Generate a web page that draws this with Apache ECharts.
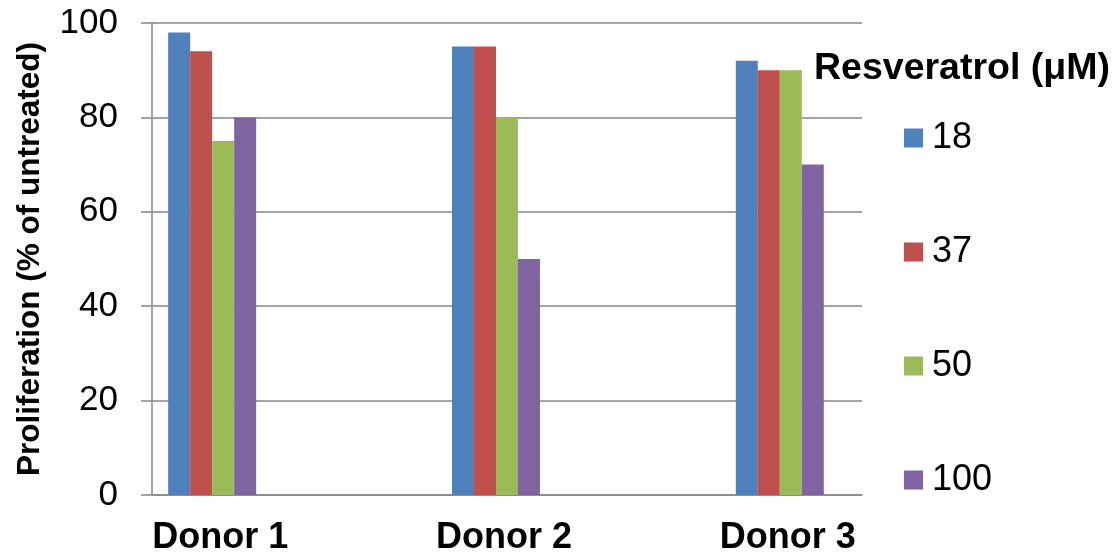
<!DOCTYPE html>
<html><head><meta charset="utf-8">
<script src="https://cdn.jsdelivr.net/npm/echarts@6/dist/echarts.min.js"></script>
<style>html,body{margin:0;padding:0;background:#fff}#c{width:1115px;height:560px}</style>
</head><body><div id="c"></div>
<script>
const categories = ['Donor 1', 'Donor 2', 'Donor 3'];
const seriesNames = ['18', '37', '50', '100'];
const s18 = [98, 95, 92];
const s37 = [94, 95, 90];
const s50 = [75, 80, 90];
const s100 = [80, 50, 70];
const yTicks = [0, 20, 40, 60, 80, 100];
const colors = ['#4F81BD', '#C0504D', '#9BBB59', '#8064A2'];
const values = [s18, s37, s50, s100];
const font = '"Liberation Sans", Arial, sans-serif';

const chart = echarts.init(document.getElementById('c'), null, {renderer: 'canvas'});
chart.setOption({
  animation: false,
  backgroundColor: '#fff',
  grid: {left: 152, right: 253, top: 23, bottom: 65, containLabel: false},
  title: {
    text: 'Resveratrol (μM)', left: 809, top: 45,
    textStyle: {fontFamily: font, fontSize: 37.5, fontWeight: 'bold', color: '#000'}
  },
  legend: {
    orient: 'vertical', left: 899, top: 115,
    itemWidth: 19, itemHeight: 19, itemGap: 78,
    icon: 'rect',
    data: seriesNames,
    textStyle: {fontFamily: font, fontSize: 36, color: '#000', lineHeight: 36, padding: [0, 0, 0, 4]}
  },
  xAxis: {
    type: 'value', min: -0.212, max: 2.2896,
    axisLine: {show: true, onZero: false, lineStyle: {color: '#868686', width: 1.5}},
    axisTick: {show: false},
    splitLine: {show: false},
    axisLabel: {
      customValues: [0, 1, 2],
      formatter: v => categories[Math.round(v)],
      margin: 25, padding: [0, 0, 0, 16],
      fontFamily: font, fontSize: 36, fontWeight: 'bold', color: '#000'
    }
  },
  yAxis: {
    type: 'value', min: 0, max: 100, interval: 20,
    name: 'Proliferation (% of untreated)', nameLocation: 'middle', nameGap: 106, nameRotate: 90,
    nameTextStyle: {fontFamily: font, fontSize: 31.5, fontWeight: 'bold', color: '#000'},
    axisLine: {show: true, onZero: false, lineStyle: {color: '#868686', width: 1.5}},
    axisTick: {show: true, inside: false, length: 11, lineStyle: {color: '#868686', width: 1.5}},
    splitLine: {show: true, lineStyle: {color: '#868686', width: 1.5}},
    axisLabel: {
      margin: 34, fontFamily: font, fontSize: 35, color: '#000',
      formatter: v => yTicks.includes(v) ? String(v) : ''
    }
  },
  series: seriesNames.map((n, i) => ({
    name: n, type: 'bar', barWidth: 22, barGap: '0%',
    itemStyle: {color: colors[i]},
    data: values[i].map((v, j) => [j, v])
  }))
});
</script></body></html>
